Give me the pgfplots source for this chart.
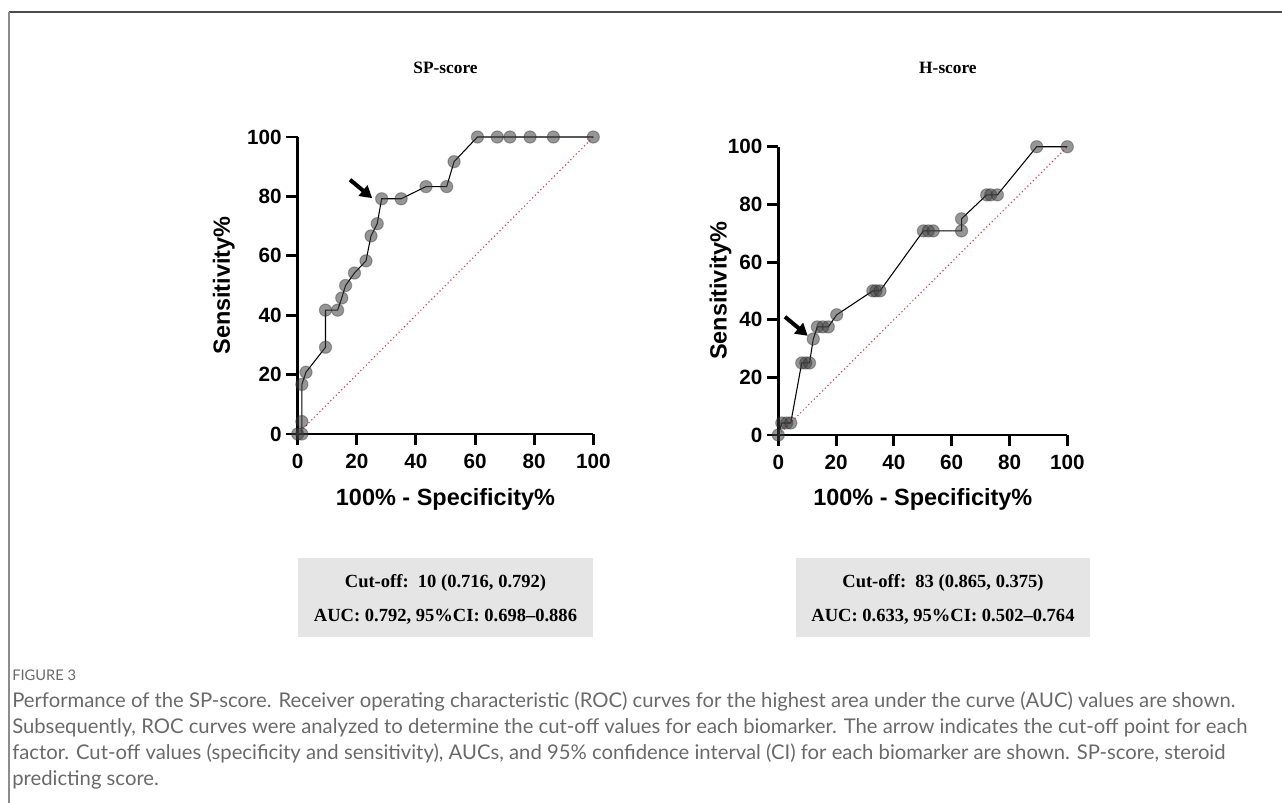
\documentclass[border=0pt]{standalone}
\usepackage{pgfplots}
\pgfplotsset{compat=1.18}
\usepackage{fontspec}
\usetikzlibrary{arrows.meta}
\setmainfont{Liberation Serif}
\newfontfamily\arial{Liberation Sans}
\newfontfamily\capfont{Lato}
\definecolor{diag}{RGB}{214,72,86}
\definecolor{capgray}{RGB}{105,105,105}
\definecolor{boxgray}{RGB}{229,229,229}
% pixel -> pt helper (1px = 0.75pt, origin top left of the 1282x803 image)
\def\P(#1,#2){({#1*0.75pt},{(803-#2)*0.75pt})}

\pgfplotsset{
  roc/.style={
    scale only axis, clip=false,
    xmin=0, xmax=100, ymin=0, ymax=100,
    axis x line*=bottom, axis y line*=left,
    axis line style={line width=2.2pt, black},
    xtick={0,20,...,100}, ytick={0,20,...,100},
    tick align=outside, major tick length=8.5pt,
    tick style={line width=2.2pt, black},
    /pgf/number format/assume math mode=true,
    tick label style={font=\arial\bfseries\fontsize{15.5}{18}\selectfont},
    xticklabel style={yshift=-3pt},
    label style={font=\arial\bfseries\fontsize{17.6}{20}\selectfont},
    title style={font=\bfseries\fontsize{13}{15}\selectfont},
  },
  rocline/.style={black, line width=0.8pt, mark=*, mark size=4.6pt,
    mark options={fill=black!75, fill opacity=0.55, draw=black!85, draw opacity=0.35}},
}

\begin{document}
\begin{tikzpicture}
\path[use as bounding box] (0,0) rectangle (961.5pt,602.25pt);
% frame
\draw[line width=1.1pt, black!70] \P(9,12) -- \P(1282,12);
\draw[line width=1.1pt, black!45] \P(9,12) -- \P(9,803);

% ---- SP-score
\begin{axis}[roc, at={(223.28pt,276.75pt)}, anchor=south west,
  width=221.7pt, height=222.75pt,
  title={SP-score}, title style={at={(axis description cs:0.5,1.236)}, anchor=center, yshift=-6.5pt},
  xlabel={100\% - Specificity\%}, ylabel={Sensitivity\%},
  xlabel style={at={(axis description cs:0.5,-0.222)}, anchor=center},
  ylabel style={at={(axis description cs:-0.25,0.5)}, anchor=center, rotate=0},
]
\addplot[diag, dotted, line width=0.9pt] coordinates {(0,0) (100,100)};
\addplot[rocline] coordinates {
 (0,0) (1.4,0) (1.4,4.2) (1.4,16.7) (2.8,20.8) (9.4,29.2) (9.4,41.7) (13.5,41.7)
 (14.9,45.8) (16.2,50) (19.2,54.2) (23.1,58.3) (24.8,66.7) (26.9,70.8) (28.4,79.2)
 (35,79.2) (43.4,83.3) (50.4,83.3) (52.9,91.7) (60.8,100) (67.5,100) (71.8,100)
 (78.6,100) (86.5,100) (100,100)
};
\draw[-{Triangle[length=9pt,width=10pt]}, line width=3pt] (axis cs:17.7,85.6) -- (axis cs:25.2,79.4);
\end{axis}

% ---- H-score
\begin{axis}[roc, at={(583.73pt,276pt)}, anchor=south west,
  width=216.75pt, height=216.2pt,
  title={H-score}, title style={at={(axis description cs:0.587,1.276)}, anchor=center, yshift=-6.5pt},
  xlabel={100\% - Specificity\%}, ylabel={Sensitivity\%},
  xlabel style={at={(axis description cs:0.5,-0.225)}, anchor=center},
  ylabel style={at={(axis description cs:-0.2,0.5)}, anchor=center, rotate=0},
]
\addplot[diag, dotted, line width=0.9pt] coordinates {(0,0) (100,100)};
\addplot[rocline] coordinates {
 (0,0) (1.2,4.17) (2.9,4.17) (4.3,4.17) (8.1,25) (9.5,25) (10.8,25) (12.1,33.3)
 (13.5,37.5) (15.4,37.5) (17.3,37.5) (20.2,41.7) (32.7,50) (33.8,50) (35.2,50)
 (50.2,70.8) (51.9,70.8) (53.6,70.8) (63.4,70.8) (63.4,75) (72.1,83.3) (73.5,83.3)
 (75.8,83.3) (89.4,100) (100,100)
};
\draw[-{Triangle[length=9pt,width=10pt]}, line width=3pt] (axis cs:2.3,41.0) -- (axis cs:10.2,34.4);
\end{axis}

% result boxes
\fill[boxgray] \P(298,558) rectangle \P(593,637);
\fill[boxgray] \P(796,558) rectangle \P(1090,637);
\begin{scope}[every node/.style={font=\bfseries\fontsize{13.9}{16}\selectfont, inner sep=0pt}]
\node[anchor=base] at \P(445.5,588) {Cut-off:\ \ 10 (0.716, 0.792)};
\node[anchor=base] at \P(445.5,622) {AUC: 0.792, 95\%CI: 0.698--0.886};
\node[anchor=base] at \P(943,588) {Cut-off:\ \ 83 (0.865, 0.375)};
\node[anchor=base] at \P(943,622) {AUC: 0.633, 95\%CI: 0.502--0.764};
\end{scope}

% caption
\begin{scope}[every node/.style={text=capgray, inner sep=0pt, anchor=base west}]
\node[font=\capfont\fontsize{11}{12}\selectfont] at \P(12,681) {FIGURE 3};
\node[font=\capfont\fontsize{15.2}{18}\selectfont] at \P(12,708) {Performance of the SP-score. Receiver operating characteristic (ROC) curves for the highest area under the curve (AUC) values are shown.};
\node[font=\capfont\fontsize{15.2}{18}\selectfont] at \P(12,734) {Subsequently, ROC curves were analyzed to determine the cut-off values for each biomarker. The arrow indicates the cut-off point for each};
\node[font=\capfont\fontsize{15.2}{18}\selectfont] at \P(12,760) {factor. Cut-off values (specificity and sensitivity), AUCs, and 95\% confidence interval (CI) for each biomarker are shown. SP-score, steroid};
\node[font=\capfont\fontsize{15.2}{18}\selectfont] at \P(12,786) {predicting score.};
\end{scope}
\end{tikzpicture}
\end{document}
